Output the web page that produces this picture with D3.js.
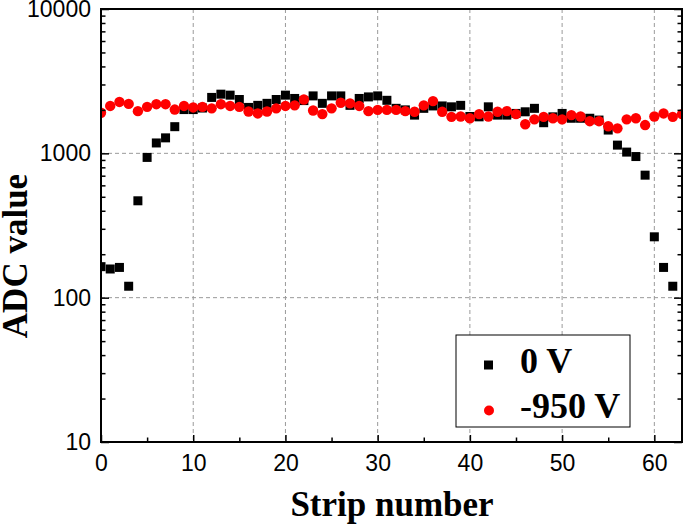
<!DOCTYPE html>
<html>
<head>
<meta charset="utf-8">
<script src="https://cdn.jsdelivr.net/npm/d3@7"></script>
<style>
  html, body { margin: 0; padding: 0; background: #fff; }
  svg { display: block; }
</style>
</head>
<body>
<svg id="chart" width="685" height="525"></svg>
<script>
// ---- Data ----
const strips0V = d3.range(0, 63);
const values0V = [164, 158, 162, 120, 469, 937, 1180, 1280, 1530, 2010,
  2010, 2060, 2440, 2570, 2530, 2360, 2080, 2150, 2220, 2360,
  2530, 2400, 2320, 2500, 2220, 2500, 2500, 2150, 2400, 2460,
  2500, 2330, 2050, 2000, 1840, 2050, 2130, 2130, 2100, 2150,
  1800, 1790, 2100, 1840, 1840, 1890, 1940, 2050, 1630, 1790,
  1890, 1750, 1750, 1750, 1700, 1450, 1140, 1020, 950, 706,
  264, 162, 120];
const strips950V = d3.range(0, 64);
const values950V = [1910, 2130, 2270, 2200, 1960, 2100, 2190, 2190, 2010, 2130,
  2080, 2100, 2050, 2190, 2130, 2100, 1950, 1890, 1950, 2050,
  2130, 2150, 2360, 1980, 1870, 2050, 2240, 2220, 2130, 1960,
  2000, 2000, 2000, 1960, 1940, 2150, 2300, 1940, 1790, 1800,
  1750, 1870, 1800, 1940, 1960, 1870, 1590, 1720, 1790, 1750,
  1720, 1840, 1800, 1670, 1670, 1540, 1490, 1720, 1750, 1570,
  1800, 1890, 1790, 1870];
const xTicks = [0, 10, 20, 30, 40, 50, 60];
const xMinorTicks = [5, 15, 25, 35, 45, 55];
const yTicks = [10, 100, 1000, 10000];
const seriesNames = ["0 V", "-950 V"];
const xTitle = "Strip number";
const yTitle = "ADC value";

// ---- Layout ----
const L = 101, R = 682, T = 9, B = 442;
const svg = d3.select("#chart");

const x = d3.scaleLinear().domain([0, 63]).range([L, R]);
const y = d3.scaleLog().domain([10, 10000]).range([B, T]);

const yMinor = [];
[10, 100, 1000].forEach(d => { for (let k = 2; k <= 9; k++) yMinor.push(d * k); });

// grid
const grid = svg.append("g").attr("stroke", "#9a9a9a").attr("stroke-width", 1).attr("stroke-dasharray", "4,3");
grid.selectAll("line.gx").data(xTicks.filter(d => d > 0)).enter().append("line")
  .attr("x1", d => x(d)).attr("x2", d => x(d)).attr("y1", T).attr("y2", B);
grid.selectAll("line.gy").data([100, 1000]).enter().append("line")
  .attr("x1", L).attr("x2", R).attr("y1", d => y(d)).attr("y2", d => y(d));

// clip
svg.append("clipPath").attr("id", "clip").append("rect")
  .attr("x", L).attr("y", T).attr("width", R - L).attr("height", B - T);

const plot = svg.append("g").attr("clip-path", "url(#clip)");
const sq = 9;
plot.selectAll("rect.s0").data(values0V).enter().append("rect")
  .attr("x", (d, i) => x(strips0V[i]) - sq / 2)
  .attr("y", d => y(d) - sq / 2)
  .attr("width", sq).attr("height", sq).attr("fill", "#000");
plot.selectAll("circle.s1").data(values950V).enter().append("circle")
  .attr("cx", (d, i) => x(strips950V[i]))
  .attr("cy", d => y(d))
  .attr("r", 5.2).attr("fill", "#ff0000");

// axes
const axG = svg.append("g");
// bottom ticks (inward)
const xAxis = d3.axisBottom(x).tickValues(xTicks).tickSize(-7).tickPadding(13).tickFormat(d3.format("d"));
const xg = axG.append("g").attr("transform", `translate(0,${B})`).call(xAxis);
xg.select(".domain").remove();
xg.selectAll(".tick line").attr("stroke", "#000").attr("stroke-width", 1.5);
xg.selectAll(".tick text").attr("font-family", "'Liberation Sans', Arial, sans-serif").attr("font-size", 23).attr("fill", "#000");
const xgm = axG.append("g").attr("transform", `translate(0,${B})`)
  .call(d3.axisBottom(x).tickValues(xMinorTicks).tickSize(-4.5).tickFormat(""));
xgm.select(".domain").remove();
xgm.selectAll(".tick line").attr("stroke", "#000").attr("stroke-width", 1.5);

// left ticks
const yAxis = d3.axisLeft(y).tickValues(yTicks).tickSize(-8).tickPadding(10).tickFormat(d3.format("d"));
const yg = axG.append("g").attr("transform", `translate(${L},0)`).call(yAxis);
yg.select(".domain").remove();
yg.selectAll(".tick line").attr("stroke", "#000").attr("stroke-width", 1.5);
yg.selectAll(".tick text").attr("font-family", "'Liberation Sans', Arial, sans-serif").attr("font-size", 23).attr("fill", "#000");
const ygm = axG.append("g").attr("transform", `translate(${L},0)`)
  .call(d3.axisLeft(y).tickValues(yMinor).tickSize(-4.5).tickFormat(""));
ygm.select(".domain").remove();
ygm.selectAll(".tick line").attr("stroke", "#000").attr("stroke-width", 1.5);

// right ticks
const ygr = axG.append("g").attr("transform", `translate(${R},0)`)
  .call(d3.axisRight(y).tickValues(yTicks).tickSize(-8).tickFormat(""));
ygr.select(".domain").remove();
ygr.selectAll(".tick line").attr("stroke", "#000").attr("stroke-width", 1.5);
const ygrm = axG.append("g").attr("transform", `translate(${R},0)`)
  .call(d3.axisRight(y).tickValues(yMinor).tickSize(-4.5).tickFormat(""));
ygrm.select(".domain").remove();
ygrm.selectAll(".tick line").attr("stroke", "#000").attr("stroke-width", 1.5);

// frame
svg.append("rect").attr("x", L).attr("y", T).attr("width", R - L).attr("height", B - T)
  .attr("fill", "none").attr("stroke", "#000").attr("stroke-width", 2);

// titles
svg.append("text").attr("x", (286 + 498) / 2).attr("y", 516)
  .attr("text-anchor", "middle")
  .attr("font-family", "'Liberation Serif', 'Times New Roman', serif")
  .attr("font-weight", "bold").attr("font-size", 35).attr("fill", "#000")
  .text(xTitle);
svg.append("text").attr("transform", "translate(27,256) rotate(-90)")
  .attr("text-anchor", "middle")
  .attr("font-family", "'Liberation Serif', 'Times New Roman', serif")
  .attr("font-weight", "bold").attr("font-size", 35).attr("fill", "#000")
  .text(yTitle);

// legend
const lg = svg.append("g");
lg.append("rect").attr("x", 456).attr("y", 335).attr("width", 174).attr("height", 92)
  .attr("fill", "#fff").attr("stroke", "#000").attr("stroke-width", 1);
lg.append("rect").attr("x", 488.5 - 4.5).attr("y", 365 - 4.5).attr("width", 9).attr("height", 9).attr("fill", "#000");
lg.append("circle").attr("cx", 489).attr("cy", 410.5).attr("r", 5).attr("fill", "#ff0000");
lg.selectAll("text").data(seriesNames).enter().append("text")
  .attr("x", 520).attr("y", (d, i) => i === 0 ? 373 : 418)
  .attr("font-family", "'Liberation Serif', 'Times New Roman', serif")
  .attr("font-weight", "bold").attr("font-size", 36).attr("fill", "#000")
  .text(d => d);
</script>
</body>
</html>
